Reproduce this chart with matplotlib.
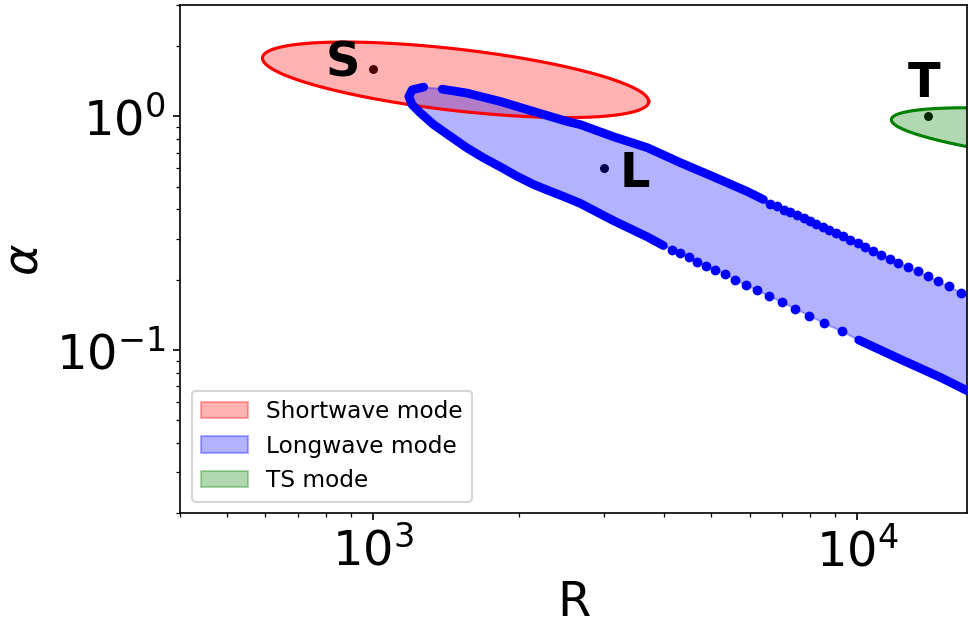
import numpy as np
import matplotlib
matplotlib.use("Agg")
import matplotlib.pyplot as plt

# 蓝色区域上边界（密集部分）
R_upper_dense = [1391, 1566, 1835, 2149, 2519, 2685, 3140, 3691, 4317, 5050, 5935, 6406]
a_upper_dense = [1.309, 1.259, 1.159, 1.050, 0.952, 0.922, 0.819, 0.735, 0.634, 0.552, 0.477, 0.441]

# 上边界稀疏点
R_upper_dots = [6622, 6836, 7056, 7284, 7519, 7760, 8010, 8241, 8508, 8766, 9063, 9357, 9654,
                10028, 10387, 10790, 11207, 11700, 12170, 12748, 13342, 13987, 14716, 15506,
                16363, 17300]
a_upper_dots = [0.4236, 0.4125, 0.3993, 0.3888, 0.3790, 0.3680, 0.3573, 0.3469, 0.3354, 0.3257,
                0.3175, 0.3070, 0.2972, 0.2877, 0.2755, 0.2667, 0.2564, 0.2458, 0.2354, 0.2263,
                0.2176, 0.2065, 0.1966, 0.1872, 0.1759, 0.1655]

# 左端尖部 + 下边界（密集部分）
R_lower_dense = [1274, 1206, 1187, 1206, 1255, 1336, 1447, 1566, 1695, 1835, 1987, 2149, 2327,
                 2519, 2685, 3140, 3691, 3982]
a_lower_dense = [1.336, 1.300, 1.218, 1.122, 1.034, 0.922, 0.821, 0.733, 0.664, 0.608, 0.554,
                 0.511, 0.478, 0.448, 0.424, 0.358, 0.305, 0.280]

# 下边界稀疏点
R_lower_dots = [4151, 4317, 4491, 4674, 4880, 5099, 5330, 5594, 5894, 6212, 6586, 6989, 7447,
                7960, 8559, 9295]
a_lower_dots = [0.2694, 0.2608, 0.2503, 0.2386, 0.2297, 0.2202, 0.2111, 0.1999, 0.1900, 0.1803,
                0.1701, 0.1603, 0.1503, 0.1403, 0.1300, 0.1202]

# 下边界右侧（密集）
R_lower_tail = [10076, 12285, 14859, 16893, 18850]
a_lower_tail = [0.1104, 0.0913, 0.0764, 0.0669, 0.0604]

# 椭圆：最左点、最右点、厚度(十进位)
short_left = (592, 1.777)
short_right = (3714, 1.159)
short_thick = 0.1325
ts_left = (11771, 0.968)
ts_right = (73760, 0.666)
ts_thick = 0.1047

# 标记点
point_names = ["S", "L", "T"]
point_R = [1000, 3000, 14000]
point_a = [1.6, 0.6, 1.0]


def log_ellipse(left, right, thick, n=400):
    # 在对数坐标下的椭圆
    x0, y0 = np.log10(left)
    x1, y1 = np.log10(right)
    t = np.linspace(0, 2 * np.pi, n)
    cx, cy = (x0 + x1) / 2, (y0 + y1) / 2
    ex, k = (x1 - x0) / 2, (y1 - y0) / 2
    lx = cx + ex * np.cos(t)
    ly = cy + k * np.cos(t) + thick * np.sin(t)
    return 10 ** lx, 10 ** ly


fig = plt.figure(figsize=(968 / 150, 625 / 150), dpi=150)
ax = fig.add_axes([180 / 968, 0.1787, 0.8135, 0.8133])
ax.set_xscale("log")
ax.set_yscale("log")

# 点（画在填充下面）
ax.plot(point_R, point_a, "o", color="k", ms=4.3, mew=0, zorder=1)
offsets = {"S": (-14.3, -3.7), "L": (14.9, -8.8), "T": (-1.9, 9.1)}
for name, r, a in zip(point_names, point_R, point_a):
    ax.annotate(name, (r, a), xytext=offsets[name], textcoords="offset points",
                ha="center", va="baseline", fontsize=23, fontweight="bold", zorder=5)

# 短波模式
sx, sy = log_ellipse(short_left, short_right, short_thick)
ax.fill(sx, sy, color="red", alpha=0.3, label="Shortwave mode", zorder=1.5)
ax.plot(sx, sy, color="red", lw=1.5, zorder=2)

# 长波模式
poly_R = R_upper_dense + R_upper_dots + R_lower_tail[::-1] + R_lower_dots[::-1] + R_lower_dense[::-1]
poly_a = a_upper_dense + a_upper_dots + a_lower_tail[::-1] + a_lower_dots[::-1] + a_lower_dense[::-1]
ax.fill(poly_R, poly_a, color="blue", alpha=0.3, label="Longwave mode", zorder=1.5)
for xs, ys in [(R_upper_dense, a_upper_dense), (R_lower_dense, a_lower_dense),
               (R_lower_tail, a_lower_tail)]:
    ax.plot(xs, ys, color="blue", lw=4.2, solid_capstyle="round",
            solid_joinstyle="round", zorder=3)
ax.plot(R_upper_dots, a_upper_dots, "o", color="blue", ms=4.7, mew=0, zorder=3)
ax.plot(R_lower_dots, a_lower_dots, "o", color="blue", ms=4.7, mew=0, zorder=3)

# TS 模式
gx, gy = log_ellipse(ts_left, ts_right, ts_thick)
ax.fill(gx, gy, color="green", alpha=0.3, label="TS mode", zorder=1.5)
ax.plot(gx, gy, color="green", lw=1.5, zorder=2)

ax.set_xlim(400, 16900)
ax.set_ylim(0.02, 3.0)
ax.tick_params(labelsize=23)
ax.set_xlabel("R", fontsize=23, labelpad=1.5)
ax.set_ylabel(r"$\alpha$", fontsize=23)
ax.legend(loc="lower left", fontsize=11.2)

fig.savefig("out.png", dpi=150)
